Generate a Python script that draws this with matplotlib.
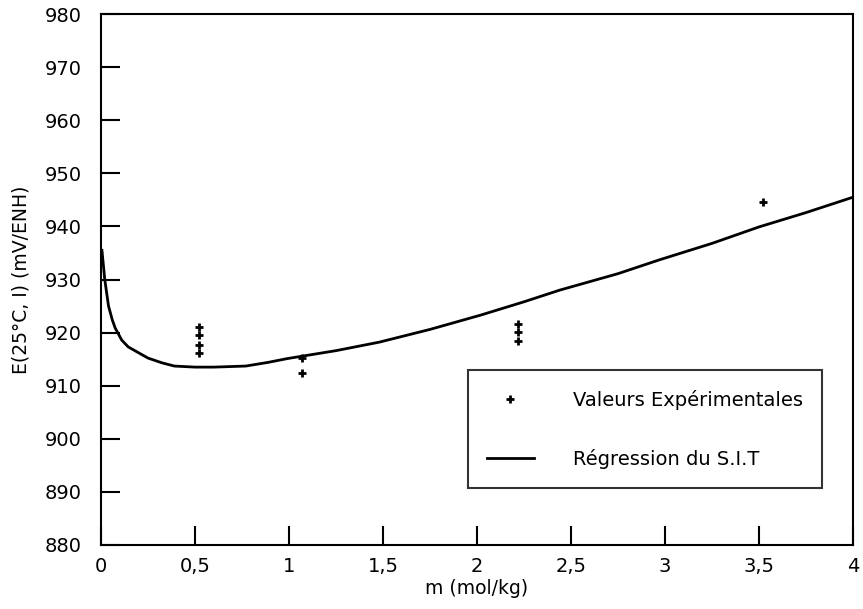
import matplotlib
matplotlib.use("Agg")
import matplotlib.pyplot as plt

# experimental points (m in mol/kg, E in mV/ENH)
m_exp = [0.52, 0.52, 0.52, 0.52, 1.07, 1.07, 2.22, 2.22, 2.22, 3.52]
e_exp = [921.1, 919.5, 917.7, 916.2, 915.2, 912.4, 921.6, 920.1, 918.4, 944.6]

# S.I.T regression curve
m_sit = [0.005, 0.02, 0.04, 0.06, 0.075, 0.11, 0.145, 0.2, 0.25, 0.325, 0.39,
         0.5, 0.6, 0.77, 0.89, 0.99, 1.25, 1.48, 1.75, 2.02, 2.25, 2.44,
         2.75, 2.97, 3.25, 3.5, 3.75, 4.0]
e_sit = [935.5, 930.0, 925.0, 922.4, 920.9, 918.6, 917.3, 916.2, 915.2, 914.3, 913.7,
         913.5, 913.5, 913.7, 914.4, 915.1, 916.6, 918.2, 920.6, 923.3, 925.8, 928.0,
         931.1, 933.7, 936.8, 939.9, 942.6, 945.5]

x_ticks = [0, 0.5, 1, 1.5, 2, 2.5, 3, 3.5, 4]
x_labels = ["0", "0,5", "1", "1,5", "2", "2,5", "3", "3,5", "4"]
y_ticks = [880, 890, 900, 910, 920, 930, 940, 950, 960, 970, 980]

plt.rcParams['font.family'] = ['DejaVu Sans']

fig = plt.figure(figsize=(8.63, 6.09), dpi=100)
ax = fig.add_axes([101 / 863, 64 / 609, 752 / 863, 531 / 609])

ax.plot(m_exp, e_exp, linestyle='none', marker='+', markersize=6,
        markeredgewidth=2, color='black', label='Valeurs Expérimentales')
ax.plot(m_sit, e_sit, color='black', linewidth=2, label='Régression du S.I.T')

ax.set_xlim(0, 4)
ax.set_ylim(880, 980)
ax.set_xticks(x_ticks)
ax.set_xticklabels(x_labels)
ax.set_yticks(y_ticks)
ax.tick_params(direction='in', length=14, width=1.5, labelsize=14)
ax.tick_params(axis='y', pad=14)
ax.tick_params(axis='x', pad=9)
for s in ax.spines.values():
    s.set_linewidth(1.5)

ax.set_xlabel('m (mol/kg)', fontsize=13.5, labelpad=2)
ax.set_ylabel('E(25°C, I) (mV/ENH)', fontsize=13.5, labelpad=10)

leg = ax.legend(loc='lower right', bbox_to_anchor=(822 / 863, 121 / 609),
                bbox_transform=fig.transFigure, fontsize=14, frameon=True,
                fancybox=False, edgecolor='black', borderpad=1.0,
                labelspacing=2.0, handlelength=2.4, handletextpad=2.0,
                borderaxespad=0)
leg.get_frame().set_linewidth(1.5)

fig.savefig('out.png', dpi=100)
